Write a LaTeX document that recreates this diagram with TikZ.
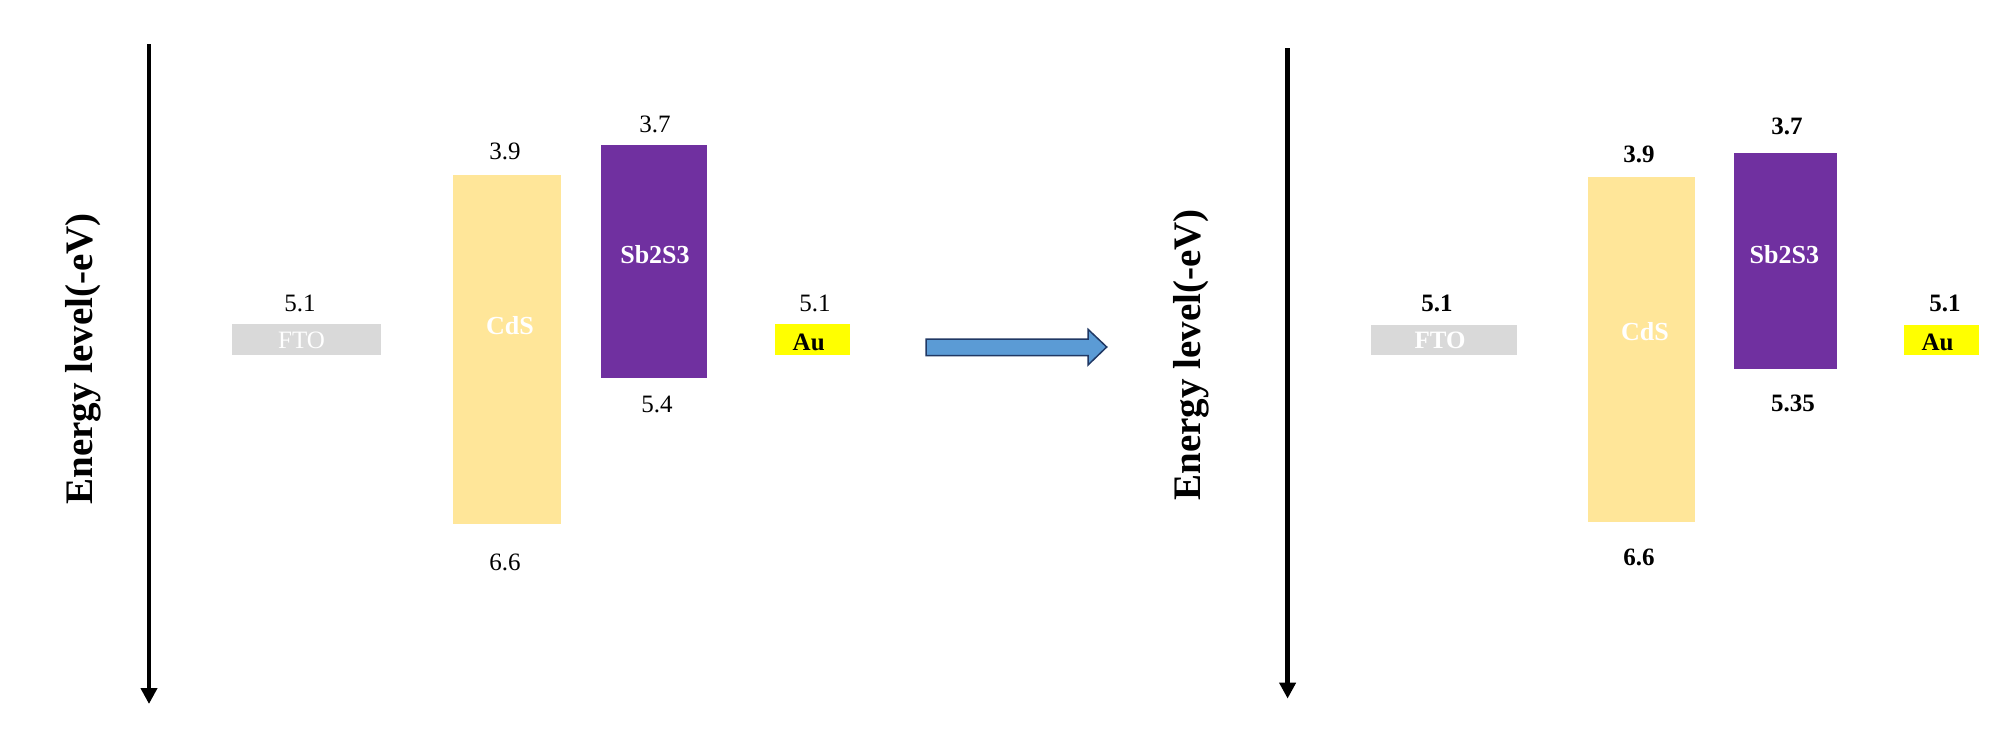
\documentclass[tikz,border=0pt]{standalone}
\usepackage{fontspec}
\setmainfont{Liberation Serif}
\usetikzlibrary{arrows.meta}
\definecolor{ftogray}{HTML}{D9D9D9}
\definecolor{cdsyellow}{HTML}{FFE699}
\definecolor{sbpurple}{HTML}{7030A0}
\definecolor{auyellow}{HTML}{FFFF00}
\definecolor{arrowblue}{HTML}{5B9BD5}
\definecolor{arrownavy}{HTML}{203864}
\tikzset{
  band/.style={draw=none, inner sep=0pt, outer sep=0pt, rectangle},
  val/.style={inner sep=0pt, font=\fontsize{25}{30}\selectfont},
  valb/.style={inner sep=0pt, font=\fontsize{25}{30}\selectfont\bfseries},
  inlbl/.style={inner sep=0pt, text=white, font=\fontsize{26}{30}\selectfont\bfseries},
  smlbl/.style={inner sep=0pt, font=\fontsize{25}{30}\selectfont},
  smlblb/.style={inner sep=0pt, font=\fontsize{25}{30}\selectfont\bfseries},
  axislbl/.style={inner sep=0pt, rotate=90, font=\fontsize{39}{44}\selectfont\bfseries},
  axisline/.style={line width=4.5pt, -{Triangle[width=16pt,length=16pt]}},
}
\begin{document}
\begin{tikzpicture}[x=1pt,y=-1pt]
\useasboundingbox (0,0) rectangle (2000,736);
% ---------- left panel ----------
\coordinate (la0) at (149,44);
\coordinate (la1) at (149,704);
\draw[axisline] (la0) -- (la1);
\node[axislbl] (lylab) at (83,359) {Energy level(-eV)};

\node[band, fill=ftogray, minimum width=149pt, minimum height=31.4pt] (lfto) at (306,339.7) {};
\node[smlbl, text=white] (lftot) at (301.6,340) {FTO};
\node[val] (lfto51) at (300,303) {5.1};

\node[band, fill=cdsyellow, minimum width=108.4pt, minimum height=349.8pt] (lcds) at (507,349.5) {};
\node[inlbl] (lcdst) at (510,326) {CdS};
\node[val] (lcds39) at (505,151) {3.9};
\node[val] (lcds66) at (505,562) {6.6};

\node[band, fill=sbpurple, minimum width=105.2pt, minimum height=233.4pt] (lsb) at (654,261.3) {};
\node[inlbl] (lsbt) at (655,255) {Sb2S3};
\node[val] (lsb37) at (655,124.4) {3.7};
\node[val] (lsb54) at (657,404.7) {5.4};

\node[band, fill=auyellow, minimum width=75pt, minimum height=31.4pt] (lau) at (812.5,339.7) {};
\node[smlblb] (laut) at (808.7,342) {Au};
\node[val] (lau51) at (815,303) {5.1};

% ---------- block arrow ----------
\draw[fill=arrowblue, draw=arrownavy, line width=1.5pt, line join=miter]
  (926,339) -- (1088,339) -- (1088,329.3) -- (1106.7,347) -- (1088,365) -- (1088,355.7) -- (926,355.7) -- cycle;

% ---------- right panel ----------
\coordinate (ra0) at (1287.6,48.4);
\coordinate (ra1) at (1287.6,698.6);
\draw[axisline] (ra0) -- (ra1);
\node[axislbl] (rylab) at (1191,355) {Energy level(-eV)};

\node[band, fill=ftogray, minimum width=146pt, minimum height=29.5pt] (rfto) at (1443.5,339.8) {};
\node[smlblb, text=white] (rftot) at (1440,340) {FTO};
\node[valb] (rfto51) at (1437,303) {5.1};

\node[band, fill=cdsyellow, minimum width=107pt, minimum height=345pt] (rcds) at (1641.5,349.5) {};
\node[inlbl] (rcdst) at (1645,332) {CdS};
\node[valb] (rcds39) at (1639,154) {3.9};
\node[valb] (rcds66) at (1639,557) {6.6};

\node[band, fill=sbpurple, minimum width=103.4pt, minimum height=216pt] (rsb) at (1785.7,260.5) {};
\node[inlbl] (rsbt) at (1784.4,255) {Sb2S3};
\node[valb] (rsb37) at (1787,126.8) {3.7};
\node[valb] (rsb535) at (1793,403.8) {5.35};

\node[band, fill=auyellow, minimum width=75pt, minimum height=29.5pt] (rau) at (1941.5,339.8) {};
\node[smlblb] (raut) at (1937.5,342) {Au};
\node[valb] (rau51) at (1945,303) {5.1};
\end{tikzpicture}
\end{document}
